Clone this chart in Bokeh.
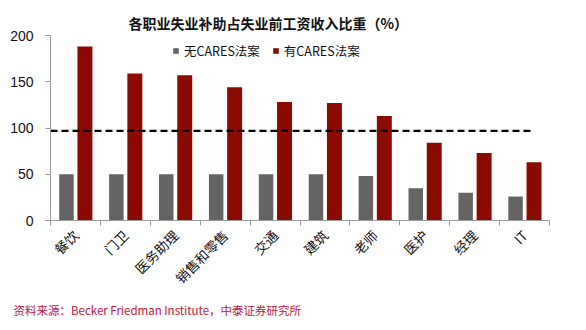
from bokeh.plotting import figure
from bokeh.models import (ColumnDataSource, FixedTicker, Legend, LegendItem,
                          Range1d, Title)
from bokeh.transform import dodge
from bokeh.embed import file_html
from bokeh.resources import INLINE
import math

# Unemployment benefit as share of pre-layoff wage, by occupation (%)
categories = ["餐饮", "门卫", "医务助理", "销售和零售", "交通", "建筑", "老师", "医护", "经理", "IT"]
without_cares = [50, 50, 50, 50, 50, 50, 48, 35, 30, 26]
with_cares = [188, 159, 157, 144, 128, 127, 113, 84, 73, 63]
reference_level = 97
y_ticks = [0, 50, 100, 150, 200]

title_text = "各职业失业补助占失业前工资收入比重（%）"
source_text = "资料来源：Becker Friedman Institute，中泰证券研究所"

GRAY = "#646464"
RED = "#8B0A02"
AXIS = "#9a9a9a"
CJK = "Noto Sans CJK SC"

idx = list(range(len(categories)))
src = ColumnDataSource(dict(idx=idx, cat=categories, without=without_cares, with_=with_cares))

p = figure(width=586, height=330, output_backend="svg", toolbar_location=None,
           x_range=Range1d(-0.5, len(categories) - 0.5), y_range=Range1d(0, 200),
           min_border_left=50, min_border_right=37, min_border_top=35, min_border_bottom=110)
p.outline_line_color = None
p.grid.visible = False
p.background_fill_color = "white"

p.title.text = title_text
p.title.align = "left"
p.title.offset = 78
p.title.text_font = CJK
p.title.text_font_size = "14px"
p.title.text_font_style = "bold"
p.title.text_color = "#111111"
p.title.standoff = 6

r1 = p.vbar(x=dodge("idx", -0.18), top="without", width=0.29, source=src,
            fill_color=GRAY, line_color=None)
r2 = p.vbar(x=dodge("idx", 0.19), top="with_", width=0.30, source=src,
            fill_color=RED, line_color=None)

# dashed reference line across the categories
p.line(x=[-0.5, len(categories) - 0.82], y=[reference_level, reference_level],
       line_color="black", line_width=2.2, line_dash="7 4")

# x axis: labels at category centres, ticks at category boundaries
xa = p.xaxis[0]
xa.ticker = FixedTicker(ticks=idx, minor_ticks=[i - 0.5 for i in range(len(categories) + 1)])
xa.major_label_overrides = {i: c for i, c in zip(idx, categories)}
xa.major_label_orientation = math.pi / 4
xa.major_label_text_font = CJK
xa.major_label_text_font_size = "13.5px"
xa.major_label_text_color = "#111111"
xa.major_tick_line_color = None
xa.minor_tick_line_color = AXIS
xa.minor_tick_out = 5
xa.minor_tick_in = 0
xa.axis_line_color = AXIS
xa.major_label_standoff = 6

ya = p.yaxis[0]
ya.ticker = FixedTicker(ticks=y_ticks)
ya.major_label_text_font = "Liberation Sans"
ya.major_label_text_font_size = "14px"
ya.major_label_text_color = "#111111"
ya.major_tick_line_color = AXIS
ya.major_tick_out = 5
ya.major_tick_in = 0
ya.minor_tick_line_color = None
ya.axis_line_color = AXIS
ya.major_label_standoff = 12

legend = Legend(items=[LegendItem(label="无CARES法案", renderers=[r1]),
                       LegendItem(label="有CARES法案", renderers=[r2])],
                orientation="horizontal", location=(122, 160),
                glyph_width=7, glyph_height=7, label_standoff=5, spacing=12,
                padding=0, margin=0, border_line_color=None,
                background_fill_alpha=0,
                label_text_font=CJK, label_text_font_size="12.5px",
                label_text_color="#111111")
p.add_layout(legend)

source_note = Title(text=source_text, align="left", offset=-37, standoff=4,
                    text_font=CJK, text_font_size="11.5px", text_font_style="normal",
                    text_color="#C4143C")
p.add_layout(source_note, "below")

open("out.html", "w").write(file_html(p, INLINE))
